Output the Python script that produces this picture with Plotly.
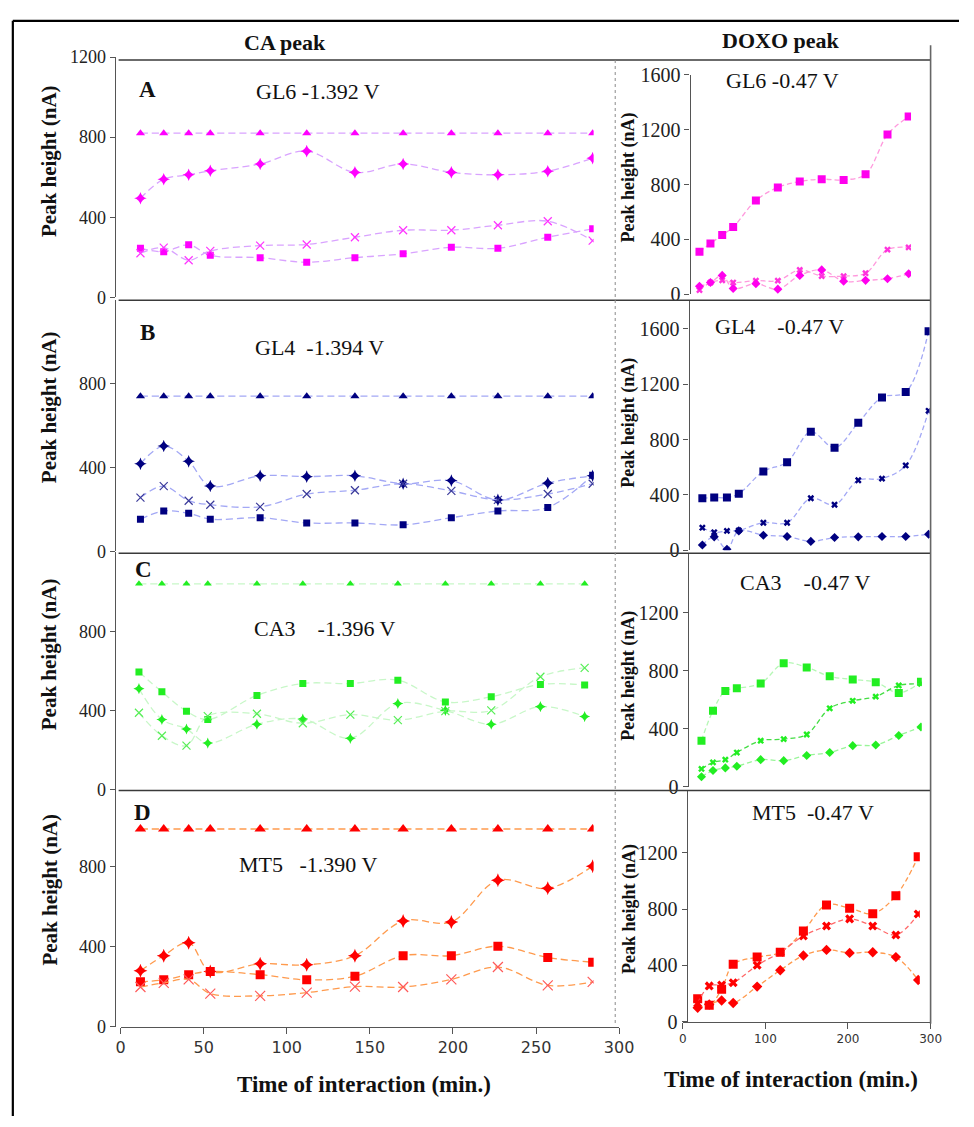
import plotly.graph_objects as go

# ---------------- data ----------------
t_ca = [12, 26, 41, 54, 84, 112, 141, 170, 199, 227, 257, 284]
t_dx = [18, 32, 47, 61, 90, 118, 146, 174, 202, 230, 258, 285]

# CA peak (left column)
gl6_ca_tri = [820, 820, 820, 820, 820, 820, 820, 820, 820, 820, 820, 820]
gl6_ca_dia = [495, 590, 612, 632, 666, 730, 624, 666, 624, 612, 630, 695]
gl6_ca_sq = [245, 228, 262, 210, 198, 175, 198, 217, 250, 245, 300, 342]
gl6_ca_x = [220, 248, 185, 232, 258, 264, 300, 335, 335, 360, 380, 283]

gl4_ca_tri = [740, 740, 740, 740, 740, 740, 740, 740, 740, 740, 740, 740]
gl4_ca_dia = [417, 502, 429, 311, 360, 356, 360, 322, 337, 245, 325, 360]
gl4_ca_x = [256, 311, 241, 222, 212, 273, 291, 322, 288, 245, 273, 322]
gl4_ca_sq = [153, 192, 181, 153, 160, 135, 135, 126, 160, 192, 209, 363]

ca3_ca_tri = [1040, 1040, 1040, 1040, 1040, 1040, 1040, 1040, 1040, 1040, 1040, 1040]
ca3_ca_sq = [594, 494, 396, 354, 476, 536, 536, 553, 443, 469, 531, 529]
ca3_ca_dia = [510, 354, 306, 235, 330, 356, 259, 435, 400, 330, 419, 369]
ca3_ca_x = [388, 272, 222, 371, 383, 335, 379, 351, 396, 400, 570, 615]

mt5_ca_tri = [990, 990, 990, 990, 990, 990, 990, 990, 990, 990, 990, 990]
mt5_ca_dia = [281, 356, 421, 277, 315, 310, 356, 530, 525, 734, 693, 804]
mt5_ca_sq = [225, 235, 261, 277, 261, 235, 253, 356, 356, 403, 347, 323]
mt5_ca_x = [199, 220, 237, 166, 155, 171, 201, 199, 237, 299, 207, 225]

# DOXO peak (right column)
gl6_dx_sq = [311, 371, 432, 490, 684, 779, 822, 839, 834, 875, 1164, 1295]
gl6_dx_x = [31, 86, 102, 86, 100, 100, 178, 133, 133, 154, 326, 342]
gl6_dx_dia = [59, 86, 138, 43, 78, 38, 138, 178, 95, 102, 114, 150]

gl4_dx_sq = [376, 381, 381, 409, 570, 637, 857, 741, 921, 1105, 1143, 1583]
gl4_dx_x = [163, 130, 140, 144, 199, 199, 376, 329, 506, 518, 613, 1008]
gl4_dx_dia = [38, 97, 7, 140, 109, 99, 64, 92, 97, 99, 99, 116]

ca3_dx_sq = [317, 525, 661, 679, 713, 853, 824, 762, 740, 722, 647, 724]
ca3_dx_x = [122, 167, 186, 235, 317, 328, 360, 541, 593, 622, 699, 710]
ca3_dx_dia = [68, 111, 129, 140, 186, 179, 215, 235, 283, 287, 353, 412]

mt5_dx_sq = [164, 118, 232, 408, 459, 493, 644, 829, 806, 767, 894, 1170]
mt5_dx_x = [130, 255, 262, 278, 401, 493, 609, 679, 730, 679, 616, 764]
mt5_dx_dia = [100, 123, 151, 134, 250, 366, 470, 510, 489, 493, 459, 297]

x_ticks_ca = [0, 50, 100, 150, 200, 250, 300]
x_ticks_dx = [0, 100, 200, 300]

# ---------------- layout helpers ----------------
W, H = 974, 1127
SERIF = "Liberation Serif, Times New Roman, serif"
SANS = "DejaVu Sans, Verdana, sans-serif"


def xd(a, b):
    return [a / W, b / W]


def yd(top, bottom):
    return [1 - bottom / H, 1 - top / H]


fig = go.Figure()


def add(idx, x, y, mcolor, lcolor, symbol, size, dash, mline=0):
    ax = "" if idx == 1 else str(idx)
    marker = dict(color=mcolor, symbol=symbol, size=size)
    if mline:
        marker["line"] = dict(color=mcolor, width=mline)
    fig.add_trace(go.Scatter(
        x=x, y=y, mode="lines+markers", xaxis="x" + ax, yaxis="y" + ax,
        line=dict(color=lcolor, width=1.3, dash=dash, shape="spline", smoothing=1.0),
        marker=marker, showlegend=False, hoverinfo="x+y"))


CAD = "7px,4px"
DXD = "5px,3px"

# A  (GL6)
add(1, t_ca, gl6_ca_tri, "#ff00ff", "#d9a3ff", "triangle-up", 8, CAD)
add(1, t_ca, gl6_ca_dia, "#ff00ff", "#d9a3ff", "star-diamond", 9, CAD)
add(1, t_ca, gl6_ca_sq, "#ff00ff", "#d9a3ff", "square", 7, CAD)
add(1, t_ca, gl6_ca_x, "#ff33ff", "#d9a3ff", "x-thin-open", 8, CAD, 1.2)
add(2, t_dx, gl6_dx_sq, "#ff00ee", "#ff99dd", "square", 8, DXD)
add(2, t_dx, gl6_dx_x, "#ff33dd", "#ff99dd", "x", 6, DXD)
add(2, t_dx, gl6_dx_dia, "#ff00ee", "#ff99dd", "diamond", 7, DXD)

# B  (GL4)
NAVY = "#000080"
LB = "#a3a8f5"
add(3, t_ca, gl4_ca_tri, NAVY, LB, "triangle-up", 8, CAD)
add(3, t_ca, gl4_ca_dia, NAVY, LB, "star-diamond", 9, CAD)
add(3, t_ca, gl4_ca_x, "#3a3a9a", LB, "x-thin-open", 8, CAD, 1.2)
add(3, t_ca, gl4_ca_sq, NAVY, LB, "square", 7, CAD)
add(4, t_dx, gl4_dx_sq, NAVY, LB, "square", 8, DXD)
add(4, t_dx, gl4_dx_x, NAVY, LB, "x", 6, DXD)
add(4, t_dx, gl4_dx_dia, NAVY, LB, "diamond", 7, DXD)

# C  (CA3)
GR = "#22ee22"
add(5, t_ca, ca3_ca_tri, GR, "#c8f7c8", "triangle-up", 7, CAD)
add(5, t_ca, ca3_ca_sq, GR, "#c8f7c8", "square", 7, CAD)
add(5, t_ca, ca3_ca_dia, GR, "#c8f7c8", "star-diamond", 8, CAD)
add(5, t_ca, ca3_ca_x, "#55ee55", "#c8f7c8", "x-thin-open", 8, CAD, 1.2)
add(6, t_dx, ca3_dx_sq, GR, "#b5f7b5", "square", 8, DXD)
add(6, t_dx, ca3_dx_x, GR, "#44dd44", "x", 6, DXD)
add(6, t_dx, ca3_dx_dia, GR, "#99f599", "diamond", 7, DXD)

# D  (MT5)
RD = "#ff0000"
OR = "#ff9a4d"
add(7, t_ca, mt5_ca_tri, RD, OR, "triangle-up", 10, CAD)
add(7, t_ca, mt5_ca_dia, RD, OR, "star-diamond", 10, CAD)
add(7, t_ca, mt5_ca_sq, RD, OR, "square", 9, CAD)
add(7, t_ca, mt5_ca_x, "#ff5a5a", OR, "x-thin-open", 10, CAD, 1.2)
add(8, t_dx, mt5_dx_sq, RD, OR, "square", 9, DXD)
add(8, t_dx, mt5_dx_x, RD, "#ff6a6a", "x", 8, DXD)
add(8, t_dx, mt5_dx_dia, RD, OR, "diamond", 8, DXD)

# ---------------- axes ----------------
LC = "#555555"
ytf_l = dict(family=SERIF, size=18, color="#222222")
ytf_r = dict(family=SERIF, size=20, color="#222222")

# (x-domain px, x-range, y-domain px top/bottom, y-range, tickvals, tickfont)
panels = {
    1: ((113, 601), (-2.9, 284.6), (47, 292), (0, 1200), [0, 400, 800, 1200], ytf_l),
    2: ((700, 925), (6.7, 288), (65, 289), (0, 1600), [0, 400, 800, 1200, 1600], ytf_r),
    3: ((113, 601), (-2.9, 284.6), (294.5, 551), (0, 1200), [0, 400, 800], ytf_l),
    4: ((699, 944), (3, 286.2), (296, 550), (0, 1800), [0, 400, 800, 1200, 1600], ytf_r),
    5: ((113, 601), (-2.2, 289.5), (552, 794), (0, 1200), [0, 400, 800], ytf_l),
    6: ((698, 936), (2.4, 286), (553.5, 791), (0, 1610), [0, 400, 800, 1200], ytf_r),
    7: ((113, 601), (-2.9, 284.6), (791.5, 1036), (0, 1200), [0, 400, 800], ytf_l),
    8: ((697, 934), (5.9, 287), (795, 1031), (0, 1640), [0, 400, 800, 1200], ytf_r),
}

layout = dict(
    width=W, height=H, margin=dict(l=0, r=0, t=0, b=0),
    paper_bgcolor="white", plot_bgcolor="rgba(0,0,0,0)", showlegend=False,
)

for i, (xdom, xr, ydom, yr, tv, tf) in panels.items():
    s = "" if i == 1 else str(i)
    layout["xaxis" + s] = dict(domain=xd(*xdom), range=list(xr), anchor="y" + s,
                               visible=False, fixedrange=True)
    layout["yaxis" + s] = dict(domain=yd(*ydom), range=list(yr), anchor="x" + s,
                               showline=True, linecolor=LC, linewidth=1.3,
                               ticks="outside", ticklen=5, tickcolor=LC,
                               tickvals=tv, tickfont=tf, showgrid=False,
                               zeroline=False, fixedrange=True)

# visible time axes for the bottom row
layout["xaxis9"] = dict(domain=xd(118, 627), range=[0, 300], anchor="y7",
                        showline=True, linecolor=LC, linewidth=1.3, ticks="outside",
                        ticklen=6, tickcolor=LC, tickvals=x_ticks_ca,
                        tickfont=dict(family=SANS, size=16, color="#333333"),
                        showgrid=False, zeroline=False, fixedrange=True)
layout["xaxis10"] = dict(domain=xd(692, 945), range=[0, 300], anchor="y8",
                         showline=True, linecolor=LC, linewidth=1.3, ticks="outside",
                         ticklen=6, tickcolor=LC, tickvals=x_ticks_dx,
                         tickfont=dict(family=SANS, size=12, color="#333333"),
                         showgrid=False, zeroline=False, fixedrange=True)
fig.add_trace(go.Scatter(x=[], y=[], xaxis="x9", yaxis="y7", showlegend=False))
fig.add_trace(go.Scatter(x=[], y=[], xaxis="x10", yaxis="y8", showlegend=False))

# ---------------- frame lines ----------------
shapes = []


def line(x0, y0, x1, y1, color="#333333", width=1.5, dash="solid"):
    shapes.append(dict(type="line", xref="paper", yref="paper",
                       x0=x0 / W, x1=x1 / W, y0=1 - y0 / H, y1=1 - y1 / H,
                       line=dict(color=color, width=width, dash=dash)))


line(8, 10, 974, 10, "#000000", 2.2)
line(8, 10, 8, 1127, "#000000", 2.2)
for yy in (50, 295, 553, 795):
    line(116, yy, 945, yy, "#3a3a3a", 1.5)
line(945, 35, 945, 1033, "#666666", 1.6)
line(623, 50, 623, 1033, "#8a8a8a", 1, "dot")
layout["shapes"] = shapes

# ---------------- text ----------------
ann = []


def txt(s, x, y, size, bold=False, angle=0, family=SERIF):
    ann.append(dict(text=("<b>%s</b>" % s) if bold else s, x=x / W, y=1 - y / H,
                    xref="paper", yref="paper", xanchor="center", yanchor="middle",
                    showarrow=False, textangle=angle,
                    font=dict(family=family, size=size, color="#111111")))


NB = "\u00a0"
txt("CA peak", 286, 32, 22, True)
txt("DOXO peak", 792, 30, 22, True)
txt("A", 145, 80, 23, True)
txt("B", 145, 328, 23, True)
txt("C", 141, 570, 23, True)
txt("D", 140, 817, 23, True)
txt("GL6 -1.392 V", 320, 82, 22)
txt("GL4" + NB * 2 + "-1.394 V", 321, 343, 22)
txt("CA3" + NB * 4 + "-1.396 V", 326, 630, 22)
txt("MT5" + NB * 3 + "-1.390 V", 309, 870, 22)
txt("GL6 -0.47 V", 794, 71, 22)
txt("GL4" + NB * 4 + "-0.47 V", 791, 322, 22)
txt("CA3" + NB * 4 + "-0.47 V", 817, 583, 22)
txt("MT5" + NB * 2 + "-0.47 V", 825, 817, 22)

for yc in (153, 404, 656, 896):
    txt("Peak height (nA)", 45, yc, 21, True, -90)
for yc in (170, 420, 678, 916):
    txt("Peak height (nA)", 637, yc, 18, True, -90)

txt("Time of interaction (min.)", 367, 1095, 23, True)
txt("Time of interaction (min.)", 802, 1090, 23, True)
layout["annotations"] = ann

fig.update_layout(**layout)
fig.write_html("out.html", config={"displayModeBar": False},
               post_script="document.body.style.margin='0';document.body.style.overflow='hidden';")
